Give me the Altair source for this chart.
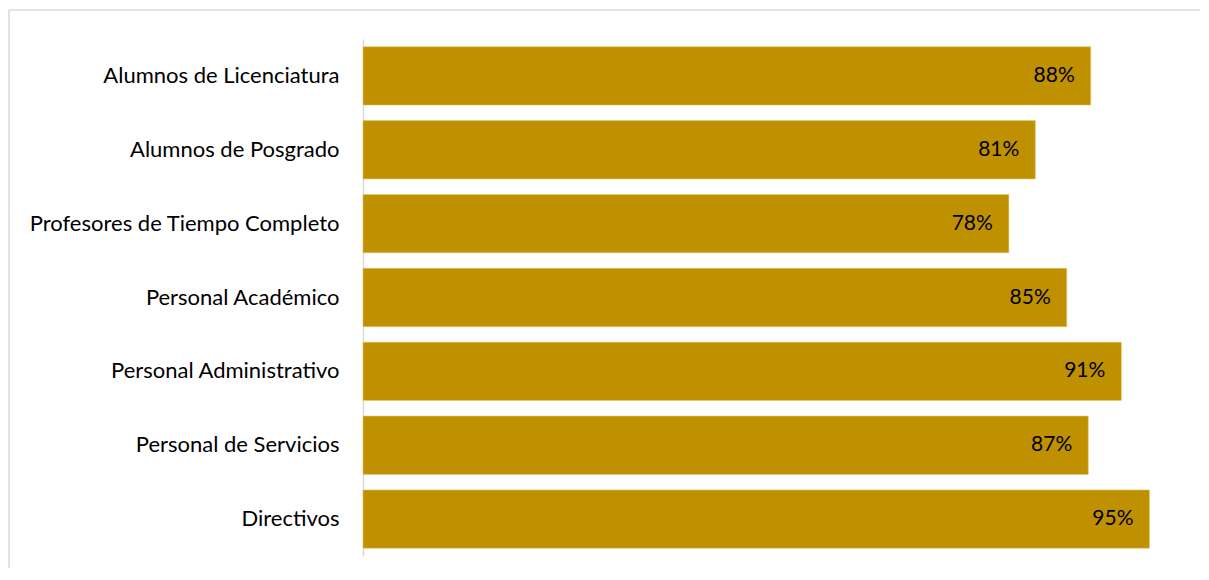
import altair as alt
import pandas as pd

categories = ["Alumnos de Licenciatura", "Alumnos de Posgrado", "Profesores de Tiempo Completo",
              "Personal Académico", "Personal Administrativo", "Personal de Servicios", "Directivos"]
values = [0.880, 0.813, 0.781, 0.851, 0.917, 0.877, 0.951]
labels = ["88%", "81%", "78%", "85%", "91%", "87%", "95%"]

df = pd.DataFrame({"cat": categories, "val": values, "lab": labels})

W, H = 827, 517
FONT = "Lato"

y_enc = alt.Y("cat:N", sort=categories, title=None,
              scale=alt.Scale(paddingInner=0.21, paddingOuter=0.105),
              axis=alt.Axis(domain=True, domainColor="#D9D9D9", domainWidth=1.5, ticks=False,
                            labelPadding=24, labelFontSize=22, labelFont=FONT, labelColor="#000000",
                            labelFontWeight="normal", labelLimit=400))
x_enc = alt.X("val:Q", title=None, scale=alt.Scale(domain=[0, 1], nice=False), axis=None)

bars = alt.Chart(df).mark_bar(color="#BF9000", stroke="#E8C76A", strokeWidth=0.6).encode(y=y_enc, x=x_enc)
text = alt.Chart(df).mark_text(align="right", dx=-16, fontSize=21, font=FONT, color="#000000").encode(
    y=alt.Y("cat:N", sort=categories), x="val:Q", text="lab:N")

one = pd.DataFrame({"a": [0]})
top_line = alt.Chart(one).mark_rule(color="#D9D9D9", strokeWidth=1.5, clip=False).encode(
    x=alt.value(-354), x2=alt.value(1000), y=alt.value(-29))
left_line = alt.Chart(one).mark_rule(color="#D9D9D9", strokeWidth=1.5, clip=False).encode(
    x=alt.value(-354), y=alt.value(-29), y2=alt.value(700))

chart = alt.layer(top_line, left_line, bars, text).properties(
    width=W, height=H,
    padding={"left": 355, "top": 31, "right": 10, "bottom": 12},
    autosize=alt.AutoSizeParams(type="none"),
).configure_view(stroke=None)

chart.save("out.html", embed_options={"renderer": "svg", "actions": False})
